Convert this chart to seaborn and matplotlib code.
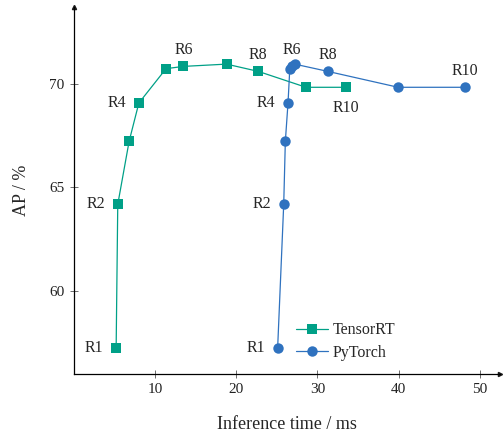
import pandas as pd
import matplotlib
matplotlib.use("Agg")
import matplotlib.pyplot as plt
import seaborn as sns

# data
runs = ["R1", "R2", "R3", "R4", "R5", "R6", "R7", "R8", "R9", "R10"]
trt_time = [5.2, 5.4, 6.8, 8.0, 11.35, 13.5, 18.8, 22.7, 28.6, 33.5]
trt_ap = [57.22, 64.18, 67.23, 69.08, 70.74, 70.85, 70.96, 70.61, 69.84, 69.84]
pt_time = [25.1, 25.85, 26.05, 26.38, 26.6, 26.9, 27.2, 31.27, 39.96, 48.2]
pt_ap = [57.22, 64.18, 67.23, 69.08, 70.74, 70.85, 70.96, 70.61, 69.84, 69.84]

trt_color = "#00A087"
pt_color = "#2F72BF"

df = pd.concat([
    pd.DataFrame({"run": runs, "time": trt_time, "ap": trt_ap, "backend": "TensorRT"}),
    pd.DataFrame({"run": runs, "time": pt_time, "ap": pt_ap, "backend": "PyTorch"}),
])

sns.set_theme(style="ticks")
plt.rcParams["font.family"] = ["Liberation Serif", "DejaVu Serif"]

fig = plt.figure(figsize=(5.03, 4.37), dpi=100)
ax = fig.add_axes([0.147, 0.145, 0.847, 0.838])

sns.lineplot(data=df, x="time", y="ap", hue="backend", style="backend",
             palette={"TensorRT": trt_color, "PyTorch": pt_color},
             markers={"TensorRT": "s", "PyTorch": "o"}, dashes=False,
             sort=False, linewidth=0.9, markersize=7.5, markeredgewidth=0,
             ax=ax)

# labels for R1 and the even runs
place = {
    "TensorRT": {"R1": "left", "R2": "left", "R4": "left", "R6": "above",
                 "R8": "above", "R10": "below"},
    "PyTorch": {"R1": "left", "R2": "left", "R4": "left", "R6": "above",
                "R8": "above", "R10": "above"},
}
for _, row in df.iterrows():
    where = place[row["backend"]].get(row["run"])
    if where is None:
        continue
    if where == "left":
        off, ha, va = (-9, 0), "right", "center"
    elif where == "above":
        off, ha, va = (0, 6), "center", "bottom"
    else:
        off, ha, va = (0, -9), "center", "top"
    ax.annotate(row["run"], (row["time"], row["ap"]), xytext=off,
                textcoords="offset points", ha=ha, va=va, fontsize=11.5)

ax.set_xlim(0, 52.5)
ax.set_ylim(56.0, 73.7)
ax.set_xticks([10, 20, 30, 40, 50])
ax.set_yticks([60, 65, 70])
ax.tick_params(direction="inout", length=6, width=0.6, color="#555555",
               labelsize=11, labelcolor="#222222", pad=4)
ax.set_xlabel("Inference time / ms", fontsize=13, labelpad=14)
ax.set_ylabel("AP / %", fontsize=13, labelpad=14)

for s in ["top", "right"]:
    ax.spines[s].set_visible(False)
for s in ["left", "bottom"]:
    ax.spines[s].set_linewidth(0.9)
    ax.spines[s].set_color("black")
ax.plot(1, 0, ">k", markersize=3, transform=ax.transAxes, clip_on=False)
ax.plot(0, 1, "^k", markersize=3, transform=ax.transAxes, clip_on=False)

leg = ax.legend(loc="lower left", bbox_to_anchor=(0.507, 0.018), frameon=False,
                fontsize=11.5, handlelength=2.0, handletextpad=0.3,
                labelspacing=0.4, borderaxespad=0)
leg.set_title(None)

fig.savefig("out.png", dpi=100)
